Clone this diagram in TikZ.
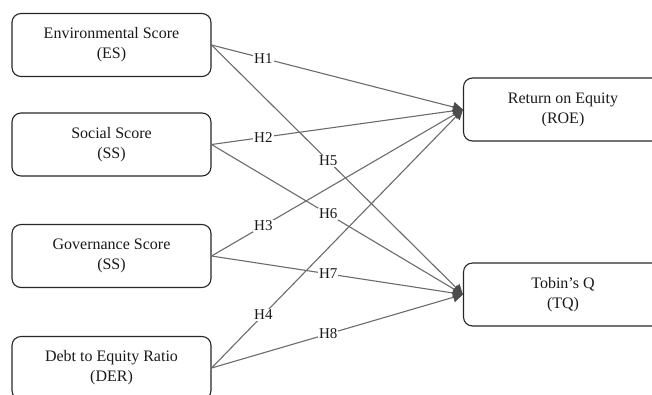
\documentclass[tikz,border=0pt]{standalone}
\usepackage{fontspec}
\setmainfont{Liberation Serif}
\usetikzlibrary{arrows.meta}
\begin{document}
\begin{tikzpicture}[x=1pt,y=-1pt,
  box/.style={draw=black!85, line width=1.1pt, rounded corners=9pt, minimum width=199pt, minimum height=63pt, align=center, font=\fontsize{16}{20}\selectfont, text=black!90, inner sep=0pt},
  link/.style={draw=black!58, line width=1.1pt, -{Triangle[length=10pt,width=10pt,color=black!70]}},
  hlab/.style={fill=white, inner sep=1pt, text=black!90, font=\fontsize{15}{15}\selectfont}]
\useasboundingbox (0,0) rectangle (652,394);
\clip (0,0) rectangle (652,394);
\node[box] (es) at (111.5,45) {Environmental Score\\(ES)};
\node[box] (ss) at (111.5,144.5) {Social Score\\(SS)};
\node[box] (gs) at (111.5,256) {Governance Score\\(SS)};
\node[box] (der) at (111.5,368) {Debt to Equity Ratio\\(DER)};
\node[box] (roe) at (563,109.5) {Return on Equity\\(ROE)};
\node[box] (tq) at (563,294.5) {Tobin's Q\\(TQ)};
\draw[link] (es.east) -- node[hlab,pos=0.206]{H1} (roe.west);
\draw[link] (ss.east) -- node[hlab,pos=0.206]{H2} (roe.west);
\draw[link] (gs.east) -- node[hlab,pos=0.206]{H3} (roe.west);
\draw[link] (der.east) -- node[hlab,pos=0.206]{H4} (roe.west);
\draw[link] (es.east) -- node[hlab,pos=0.464]{H5} (tq.west);
\draw[link] (ss.east) -- node[hlab,pos=0.464]{H6} (tq.west);
\draw[link] (gs.east) -- node[hlab,pos=0.464]{H7} (tq.west);
\draw[link] (der.east) -- node[hlab,pos=0.464]{H8} (tq.west);
\end{tikzpicture}
\end{document}
